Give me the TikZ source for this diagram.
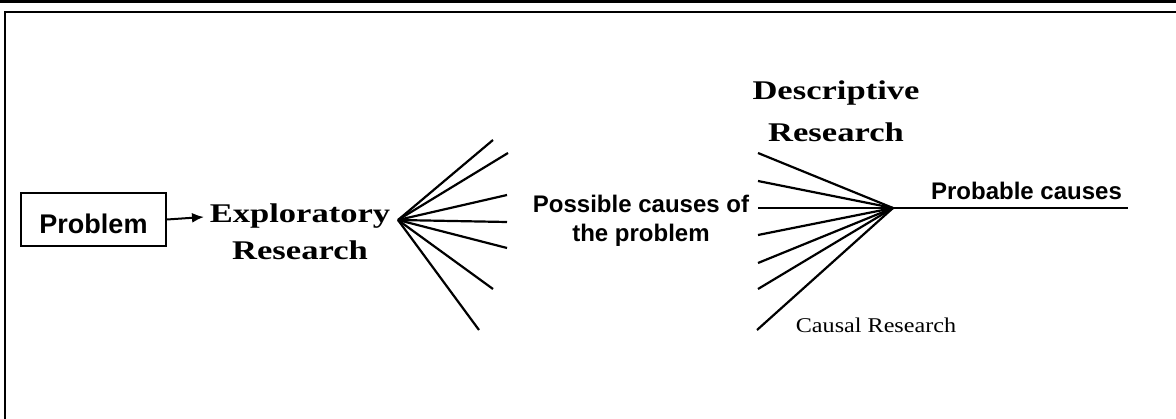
\documentclass[tikz,border=0pt]{standalone}
\usepackage{fontspec}
\setmainfont{Liberation Serif}
\setsansfont{Liberation Sans}
\newfontfamily\widefont[FakeStretch=1.28]{Liberation Serif}
\newfontfamily\narrowfont[FakeStretch=1.15]{Liberation Serif}
\usepackage{tikz}
\usetikzlibrary{arrows.meta,positioning}

\begin{document}
\begin{tikzpicture}[
    x=1pt, y=-1pt,
    box/.style={rectangle, draw, line width=2pt, minimum width=145pt, minimum height=53pt,
                text height=28pt, text depth=0pt, inner sep=0pt,
                font=\sffamily\bfseries\fontsize{27}{27}\selectfont},
    stage/.style={align=center, inner sep=0pt, font=\widefont\bfseries\fontsize{27}{37}\selectfont},
    result/.style={align=center, inner sep=0pt, font=\sffamily\bfseries\fontsize{24}{29}\selectfont},
    fanline/.style={line width=2.2pt},
    arrow/.style={-{Latex[length=12pt,width=10pt]}, line width=2pt}
]
    \useasboundingbox (0,0) rectangle (1176,419);
    % page frame
    \fill (0,0) rectangle (1176,3.5);
    \draw[line width=2.5pt] (1176,12) -- (5,12) -- (5,419);

    \node[box] (problem) at (93.5,219.5) {Problem};
    \node[stage, anchor=base] (explor) at (300,260) {Exploratory\\Research};
    \node[stage, anchor=base, font=\widefont\bfseries\fontsize{27}{42}\selectfont] (descr) at (836,142) {Descriptive\\Research};
    \node[result, anchor=base] (possible) at (641,242) {Possible causes of\\the problem};
    \node[result, anchor=base] (probable) at (1026.5,200) {Probable causes};
    \node[anchor=base, inner sep=0pt, font=\narrowfont\fontsize{21}{21}\selectfont] (causal) at (876,333) {Causal Research};

    \draw[arrow] (problem.east) -- (204,217);

    % fan out of exploratory research
    \coordinate (hubA) at (398,220);
    \foreach \i/\x/\y in {1/493/140, 2/508/153, 3/507/195, 4/507/222, 5/507/248, 6/493/289, 7/479/330}
        \coordinate (a\i) at (\x,\y);
    \foreach \i in {1,...,7}
        \draw[fanline] (hubA) -- (a\i);

    % fan into descriptive research
    \coordinate (hubB) at (893,208);
    \foreach \i/\x/\y in {1/758/153, 2/758/181, 3/758/208, 4/758/235, 5/758/263, 6/758/289, 7/757/330}
        \coordinate (b\i) at (\x,\y);
    \foreach \i in {1,...,7}
        \draw[fanline] (b\i) -- (hubB);
    \coordinate (tailB) at (1128,208);
    \draw[fanline] (hubB) -- (tailB);
\end{tikzpicture}
\end{document}
